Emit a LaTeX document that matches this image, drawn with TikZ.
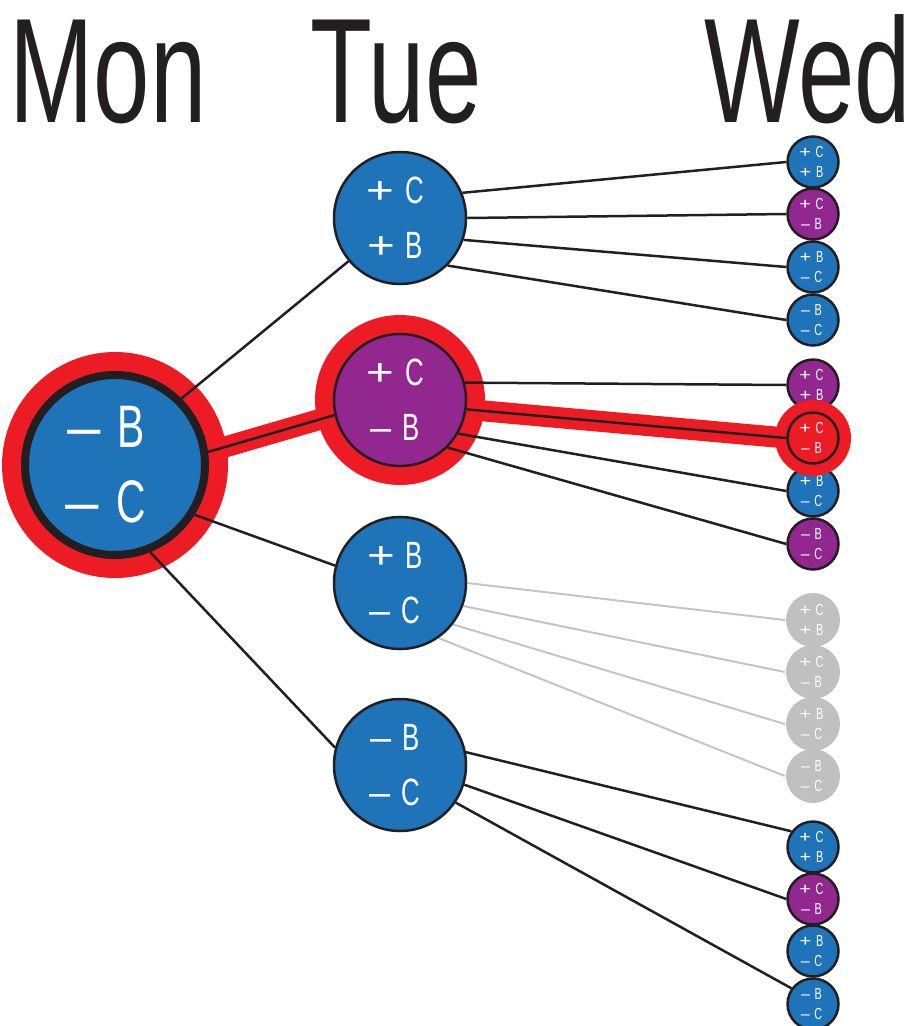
\documentclass[tikz,border=0pt]{standalone}
\usepackage{fontspec}
\newfontfamily\cond[FakeStretch=0.68]{Liberation Sans}
\newfontfamily\symdash[FakeStretch=1.0]{Liberation Sans}
\newfontfamily\symplus[FakeStretch=1.25]{Liberation Sans}
\newcommand\mn{{\symdash –}\kern0.29em}
\newcommand\pl{{\symplus +}\kern0.29em}
\definecolor{nblue}{RGB}{30,115,185}
\definecolor{npurple}{RGB}{146,39,143}
\definecolor{nred}{RGB}{237,28,36}
\definecolor{ngray}{RGB}{192,192,192}
\definecolor{nline}{RGB}{35,31,32}
\definecolor{glline}{RGB}{196,196,196}
\pgfdeclarelayer{hl}
\pgfdeclarelayer{links}
\pgfdeclarelayer{top}
\pgfdeclarelayer{topnode}
\pgfsetlayers{hl,links,main,top,topnode}
\begin{document}
\begin{tikzpicture}[x=1pt,y=-1pt,
  bignode/.style={circle, inner sep=0pt, minimum size=180pt, draw=nline, line width=8pt,
    fill=nblue, text=white, font=\cond\fontsize{60}{75}\selectfont, align=center},
  midnode/.style={circle, inner sep=0pt, minimum size=132pt, draw=nline, line width=2.5pt,
    text=white, font=\cond\fontsize{38}{55}\selectfont, align=center},
  smlnode/.style={circle, inner sep=0pt, minimum size=51pt, draw=nline, line width=2.5pt,
    text=white, font=\cond\fontsize{16}{19.5}\selectfont, align=center},
  ghostnode/.style={smlnode, draw=none, fill=ngray, minimum size=54pt},
  link/.style={draw=nline, line width=2.5pt},
  glink/.style={draw=glline, line width=2pt},
  band/.style={draw=nred, line width=21pt},
  ring/.style={fill=nred},
  day/.style={font=\cond\fontsize{149}{149}\selectfont, text=nline, anchor=base, inner sep=0pt}]
\useasboundingbox (0,0) rectangle (914,1026);

% titles
\node[day] (mon) at (108,122) {Mon};
\node[day] (tue) at (396,122) {Tue};
\node[day] (wed) at (808,122) {Wed};

% Monday
\node[bignode] (M) at (115,465) {\mn B\kern18pt\\\mn C\kern18pt};

% Tuesday
\node[midnode, fill=nblue]   (T1) at (400,218) {\pl C\kern10pt\\\pl B\kern10pt};
\node[midnode, fill=npurple] (T2) at (400,400) {\pl C\kern10pt\\\mn B\kern10pt};
\node[midnode, fill=nblue]   (T3) at (400,583) {\pl B\kern10pt\\\mn C\kern10pt};
\node[midnode, fill=nblue]   (T4) at (400,765) {\mn B\kern10pt\\\mn C\kern10pt};

% Wednesday
\node[smlnode, fill=nblue]   (W1) at (813,162) {\pl C\kern3pt\\\pl B\kern3pt};
\node[smlnode, fill=npurple] (W2) at (813,214) {\pl C\kern3pt\\\mn B\kern3pt};
\node[smlnode, fill=nblue]   (W3) at (813,267) {\pl B\kern3pt\\\mn C\kern3pt};
\node[smlnode, fill=nblue]   (W4) at (813,320) {\mn B\kern3pt\\\mn C\kern3pt};

\node[smlnode, fill=npurple] (W5) at (813,385) {\pl C\kern3pt\\\pl B\kern3pt};
\begin{pgfonlayer}{topnode}
\node[smlnode, fill=nred]    (W6) at (813,438) {\pl C\kern3pt\\\mn B\kern3pt};
\end{pgfonlayer}
\node[smlnode, fill=nblue]   (W7) at (813,491) {\pl B\kern3pt\\\mn C\kern3pt};
\node[smlnode, fill=npurple] (W8) at (813,544) {\mn B\kern3pt\\\mn C\kern3pt};

\node[ghostnode] (W9)  at (813,620) {\pl C\kern3pt\\\pl B\kern3pt};
\node[ghostnode] (W10) at (813,672) {\pl C\kern3pt\\\mn B\kern3pt};
\node[ghostnode] (W11) at (813,724) {\pl B\kern3pt\\\mn C\kern3pt};
\node[ghostnode] (W12) at (813,776) {\mn B\kern3pt\\\mn C\kern3pt};

\node[smlnode, fill=nblue]   (W13) at (813,847) {\pl C\kern3pt\\\pl B\kern3pt};
\node[smlnode, fill=npurple] (W14) at (813,899) {\pl C\kern3pt\\\mn B\kern3pt};
\node[smlnode, fill=nblue]   (W15) at (813,951) {\pl B\kern3pt\\\mn C\kern3pt};
\node[smlnode, fill=nblue]   (W16) at (813,1004) {\mn B\kern3pt\\\mn C\kern3pt};

% highlight rings and bands
\begin{pgfonlayer}{hl}
\fill[ring] (M.center) circle (113pt);
\fill[ring] (T2.center) circle (85pt);
\draw[band] (M.8) -- (T2.193);
\draw[band] (T2.-8) -- (W6.west);
\end{pgfonlayer}
\begin{pgfonlayer}{top}
\fill[ring] (W6.center) circle (38pt);
\draw[link] (T2.-8) -- (W6.west);
\end{pgfonlayer}

% connectors
\begin{pgfonlayer}{links}
\draw[link] (M.45) -- (T1.220);
\draw[link] (M.8) -- (T2.193);
\draw[link] (M.-32) -- (T3.165);
\draw[link] (M.-68) -- (T4.165);

\draw[link] (T1.22) -- (W1.west);
\draw[link] (T1.0) -- (W2.west);
\draw[link] (T1.-19) -- (W3.west);
\draw[link] (T1.-45) -- (W4.west);

\draw[link] (T2.15) -- (W5.west);
\draw[link] (T2.-30) -- (W7.west);
\draw[link] (T2.-45) -- (W8.west);

\draw[glink] (T3.0) -- (W9.west);
\draw[glink] (T3.-20) -- (W10.west);
\draw[glink] (T3.-38) -- (W11.west);
\draw[glink] (T3.-55) -- (W12.west);

\draw[link] (T4.11) -- (W13.144);
\draw[link] (T4.-17) -- (W14.west);
\draw[link] (T4.-34) -- (W16.144);
\end{pgfonlayer}
\end{tikzpicture}
\end{document}
